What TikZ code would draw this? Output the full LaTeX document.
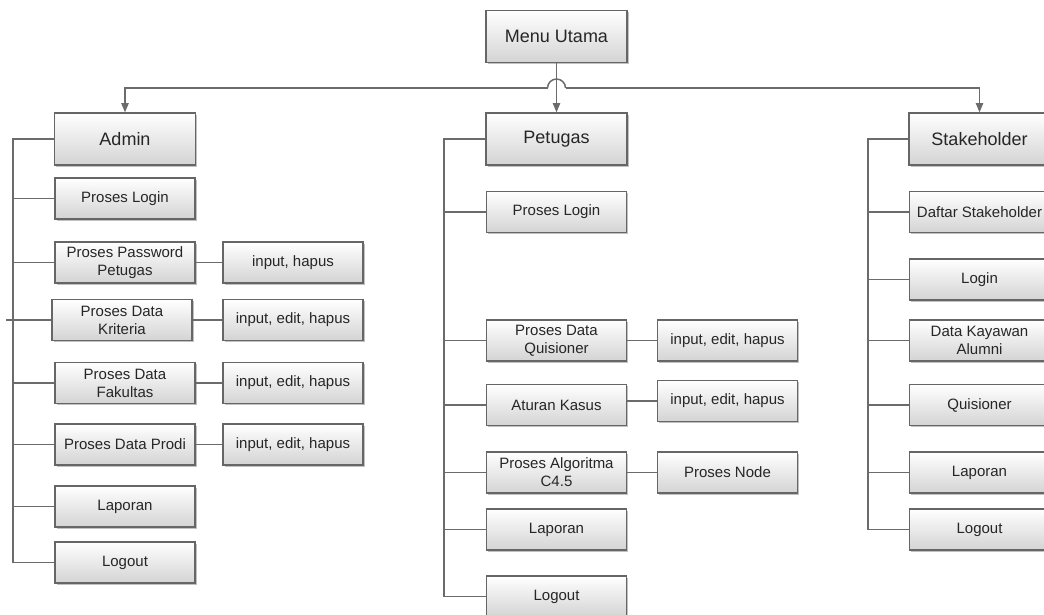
\documentclass[tikz,border=0pt]{standalone}
\usepackage{fontspec}
\setmainfont{Liberation Sans}
\usetikzlibrary{arrows.meta,shadows}
\begin{document}
\begin{tikzpicture}[x=0.75pt,y=-0.75pt,
  box/.style={draw=black!60, line width=0.9pt, top color=white, bottom color=black!17, text=black!85, align=center, inner sep=0pt,
    drop shadow={shadow xshift=1.3pt, shadow yshift=-1.3pt, fill=black!40, opacity=0.6}},
  big/.style={box, minimum width=105.75pt, minimum height=39pt, font=\fontsize{13.5}{16}\selectfont},
  small/.style={box, minimum width=105pt, minimum height=30.75pt, font=\fontsize{11.25}{13.5}\selectfont},
  link/.style={draw=black!58, line width=1.1pt},
  arr/.style={link, -{Triangle[length=7pt,width=5.5pt]}}]
\useasboundingbox (0,0) rectangle (1044,614);
\clip (0,0) rectangle (1044,614);
\fill[white] (0,0) rectangle (1044,614);

% top level
\node[big] (menu) at (556.5,36.5) {Menu Utama};
\node[big] (admin) at (125,139) {Admin};
\node[big] (petugas) at (556.5,139) {Petugas};
\node[big] (stake) at (979.5,139) {Stakeholder};

% admin column
\node[small] (aLogin) at (125,198.5) {Proses Login};
\node[small] (aPass) at (125,262.5) {Proses Password\\Petugas};
\node[small] (aKrit) at (122,320) {Proses Data\\Kriteria};
\node[small] (aFak) at (125,383) {Proses Data\\Fakultas};
\node[small] (aProdi) at (125,444.5) {Proses Data Prodi};
\node[small] (aLap) at (125,506.5) {Laporan};
\node[small] (aOut) at (125,562.5) {Logout};
\node[small] (iPass) at (293,262.5) {input, hapus};
\node[small] (iKrit) at (293,320) {input, edit, hapus};
\node[small] (iFak) at (293,383) {input, edit, hapus};
\node[small] (iProdi) at (293,444.5) {input, edit, hapus};

% petugas column
\node[small] (pLogin) at (556.5,212) {Proses Login};
\node[small] (pQuis) at (556.5,340.5) {Proses Data\\Quisioner};
\node[small] (pAtur) at (556.5,405) {Aturan Kasus};
\node[small] (pAlgo) at (556.5,472.5) {Proses Algoritma\\C4.5};
\node[small] (pLap) at (556.5,529.5) {Laporan};
\node[small] (pOut) at (556.5,596.5) {Logout};
\node[small] (iQuis) at (727.5,340.5) {input, edit, hapus};
\node[small] (iAtur) at (727.5,401) {input, edit, hapus};
\node[small] (iNode) at (727.5,472.5) {Proses Node};

% stakeholder column
\node[small] (sDaftar) at (979.5,212) {Daftar Stakeholder};
\node[small] (sLogin) at (979.5,279.5) {Login};
\node[small] (sData) at (979.5,340.5) {Data Kayawan\\Alumni};
\node[small] (sQuis) at (979.5,405) {Quisioner};
\node[small] (sLap) at (979.5,472.5) {Laporan};
\node[small] (sOut) at (979.5,529.5) {Logout};

% trunks
\coordinate (tA) at (13,139);
\coordinate (tP) at (444,139);
\coordinate (tS) at (868,139);
\coordinate (kEnd) at (6,320);
\draw[link] (admin.west) -- (tA) |- (aOut.west);
\foreach \n in {aLogin,aPass,aFak,aProdi,aLap} \draw[link] (\n.west) -- (\n.west -| tA);
\draw[link] (aKrit.west) -- (kEnd);
\draw[link] (petugas.west) -- (tP) |- (pOut.west);
\foreach \n in {pLogin,pQuis,pAtur,pAlgo,pLap} \draw[link] (\n.west) -- (\n.west -| tP);
\draw[link] (stake.west) -- (tS) |- (sOut.west);
\foreach \n in {sDaftar,sLogin,sData,sQuis,sLap} \draw[link] (\n.west) -- (\n.west -| tS);

% sub links
\draw[link] (aPass.east) -- (iPass.west);
\draw[link] (aKrit.east) -- (iKrit.west);
\draw[link] (aFak.east) -- (iFak.west);
\draw[link] (aProdi.east) -- (iProdi.west);
\draw[link] (pQuis.east) -- (iQuis.west);
\draw[link] (pAtur.east |- iAtur.west) -- (iAtur.west);
\draw[link] (pAlgo.east) -- (iNode.west);

% top arrows with hop
\coordinate (hopL) at (547.5,88);
\coordinate (hopR) at (565.5,88);
\draw[arr] (hopL) -| (admin.north);
\draw[arr] (hopR) -| (stake.north);
\draw[link] (hopL) arc[start angle=180,end angle=0,radius=6.75pt];
\draw[arr] (menu.south) -- (petugas.north);
\end{tikzpicture}
\end{document}
